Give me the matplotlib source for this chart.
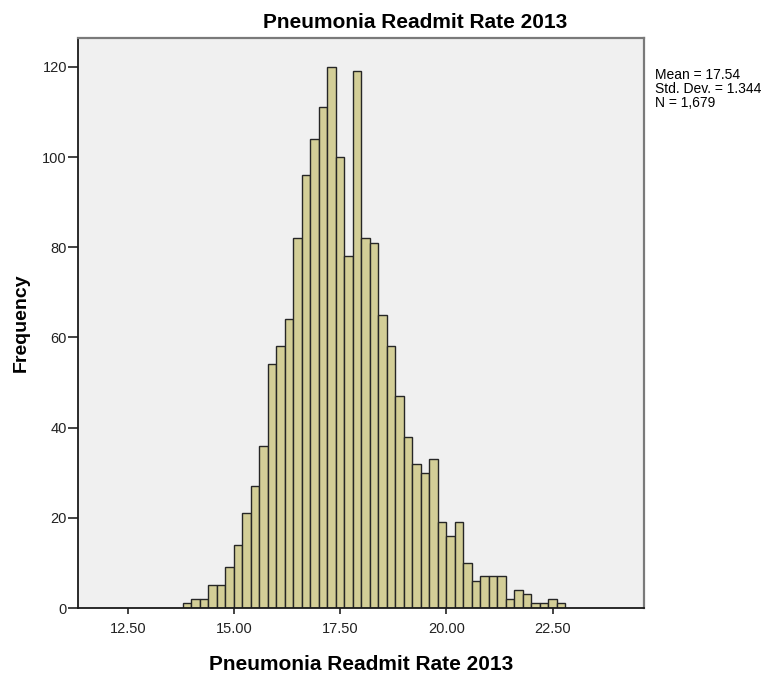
import numpy as np
import matplotlib
matplotlib.use('Agg')
import matplotlib.pyplot as plt

# histogram data, bins of width 0.2 starting at 13.8
bin_start = 13.8
bin_width = 0.2
counts = [1, 2, 2, 5, 5, 9, 14, 21, 27, 36, 54, 58, 64, 82, 96, 104, 111, 120,
          100, 78, 119, 82, 81, 65, 58, 47, 38, 32, 30, 33, 19, 16, 19, 10, 6,
          7, 7, 7, 2, 4, 3, 1, 1, 2, 1]
x_ticks = [12.5, 15.0, 17.5, 20.0, 22.5]
y_ticks = [0, 20, 40, 60, 80, 100, 120]
stats_text = 'Mean = 17.54\nStd. Dev. = 1.344\nN = 1,679'
title = 'Pneumonia Readmit Rate 2013'

plt.rcParams['font.family'] = ['Liberation Sans', 'DejaVu Sans']

W, H = 773, 673
fig = plt.figure(figsize=(W / 100, H / 100), dpi=100)
fig.patch.set_facecolor('white')
ax = fig.add_axes([78 / W, 1 - 608 / H, 566 / W, 570 / H])
ax.set_facecolor('#f0f0f0')

lefts = bin_start + bin_width * np.arange(len(counts))
ax.bar(lefts, counts, width=bin_width, align='edge', color='#d3ce97',
       edgecolor='#262626', linewidth=1.0, zorder=2)

ax.set_xlim(11.33, 24.65)
ax.set_ylim(0, 126.4)
ax.set_xticks(x_ticks)
ax.set_xticklabels(['%.2f' % t for t in x_ticks])
ax.set_yticks(y_ticks)
ax.tick_params(axis='y', length=7, width=1.2, pad=1, labelsize=10.5, colors='#222222')
ax.tick_params(axis='x', length=4, width=1.2, pad=6, labelsize=10.5, colors='#222222')

for s in ['left', 'bottom']:
    ax.spines[s].set_color('#1a1a1a')
    ax.spines[s].set_linewidth(1.3)
for s in ['top', 'right']:
    ax.spines[s].set_color('#7a7a7a')
    ax.spines[s].set_linewidth(1.6)

ax.set_xlabel(title, fontsize=15, fontweight='bold', labelpad=14)
ax.set_ylabel('Frequency', fontsize=14, fontweight='bold', labelpad=9)

fig.text(263 / W, 1 - 28 / H, title, ha='left', va='baseline',
         fontsize=15, fontweight='bold')
fig.text(655 / W, 1 - 68 / H, stats_text, ha='left', va='top',
         fontsize=10, linespacing=1.0)

fig.savefig('out.png', dpi=100)
